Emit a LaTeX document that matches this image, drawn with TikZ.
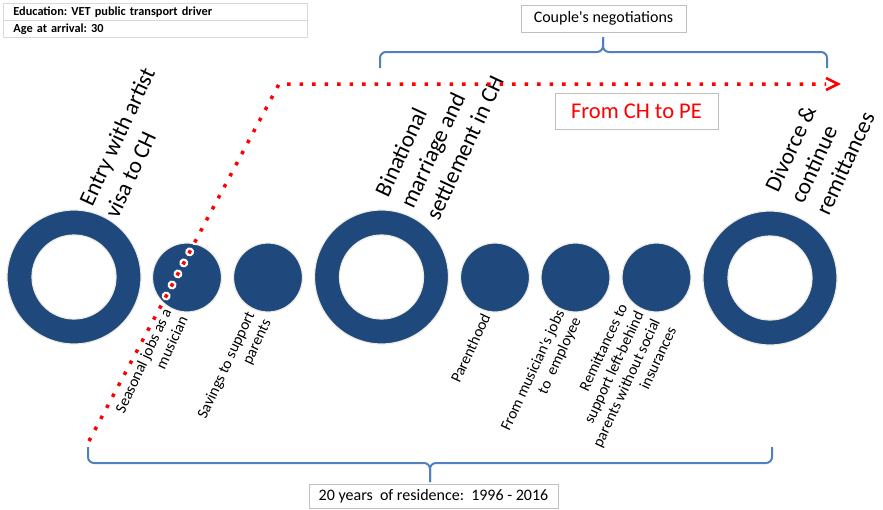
\documentclass[tikz,border=0pt]{standalone}
\usepackage{fontspec}
\setmainfont{Carlito}
\frenchspacing
\usetikzlibrary{calc}
\definecolor{navy}{HTML}{1F497D}
\definecolor{rim}{HTML}{EEECE1}
\definecolor{bracecol}{HTML}{4F81BD}
\definecolor{boxgray}{HTML}{BFBFBF}
\definecolor{cellgray}{HTML}{D9D9D9}

\begin{document}
\begin{tikzpicture}[x=1pt,y=-1pt,
  disc/.style={circle, fill=navy, draw=rim, line width=1.2pt, minimum size=69pt, inner sep=0pt},
  ring/.style={circle, fill=navy, draw=rim, line width=1.2pt, minimum size=134pt, inner sep=0pt,
    path picture={\fill[white] (path picture bounding box.center) circle (42);
      \draw[rim, line width=1.2pt] (path picture bounding box.center) circle (42);}},
  milestone/.style={rotate=65, anchor=south west, inner sep=0pt, align=left,
    font=\fontsize{23}{28}\selectfont},
  event/.style={rotate=65, anchor=north east, inner sep=0pt, align=right,
    font=\fontsize{15.5}{18}\selectfont},
  brace/.style={draw=bracecol, line width=2pt, rounded corners=6pt},
  labelbox/.style={draw=boxgray, line width=0.8pt, fill=white, inner sep=0pt},
  cell/.style={draw=cellgray, line width=0.8pt, anchor=north west, minimum width=304pt,
    minimum height=17pt, text width=284pt, inner xsep=10pt, inner ysep=0pt, align=left,
    font=\fontsize{12.3}{14}\selectfont\bfseries},
  trail/.style={red, line width=3.5pt, dash pattern=on 3.5pt off 9pt},
  halo/.style={white, line width=9pt, line cap=round, dash pattern=on 0.01pt off 12.49pt, dash phase=10.75pt}
]
\useasboundingbox (0,0) rectangle (883,509);

% profile table
\node[cell] (edu) at (3,3) {Education: VET public transport driver};
\node[cell] (age) at (3,20) {Age at arrival: 30};

% timeline of life events
\node[ring] (entry) at (74,277) {};
\node[disc] (seasonal) at (187,277.5) {};
\node[disc] (savings) at (268,277.5) {};
\node[ring] (marriage) at (381.5,277) {};
\node[disc] (parent) at (495,277.5) {};
\node[disc] (jobs) at (575.5,277.5) {};
\node[disc] (remit) at (656.5,277.5) {};
\node[ring] (divorce) at (770,278) {};

% milestone captions above the rings
\node[milestone] (entrytxt) at (118,220) {Entry with artist\\visa to CH};
\node[milestone] (marrtxt) at (439,222) {Binational\\marriage and\\settlement in CH};
\node[milestone] (divtxt) at (829,217) {Divorce \&\\continue\\remittances};

% event captions below the discs
\node[event] (seasonaltxt) at (162,307) {Seasonal jobs as a\\musician};
\node[event] (savingstxt) at (245,310) {Savings to support\\parents};
\node[event] (parenttxt) at (481,312) {Parenthood};
\node[event] (jobstxt) at (555,308) {From musician\textquotesingle s jobs\\to\ \ employee};
\node[event] (remittxt) at (618,302) {Remittances to\\support left-behind\\parents without social\\insurances};

% braces and their labels
\draw[brace] (380,68) |- (603,52) -- (603,37);
\draw[brace] (827,68) |- (603,52) -- (603,37);
\node[labelbox, minimum width=165pt, minimum height=27pt, font=\fontsize{16}{19}\selectfont] (couple) at (603.5,18.5) {Couple\textquotesingle s negotiations\hspace{9pt}};

\draw[brace] (88,447) |- (430,463) -- (430,482);
\draw[brace] (772,447) |- (430,463) -- (430,482);
\node[labelbox, minimum width=249pt, minimum height=24pt, font=\fontsize{16}{19}\selectfont] (span) at (433.5,496) {20 years\ \ of residence:\ \ 1996 - 2016};

\node[labelbox, minimum width=163pt, minimum height=36pt, text=red, font=\fontsize{22.5}{26}\selectfont] (route) at (636.5,111) {From CH to PE\hspace{24pt}};

% migration trail
\coordinate (trailstart) at (89,441);
\coordinate (trailbend) at (279,84);
\coordinate (trailend) at (826,84);
\coordinate (tip) at (838,84);
\begin{scope}
  \clip (140,236) rectangle (240,345);
  \draw[halo] (trailstart) -- (trailbend) -- (trailend);
\end{scope}
\draw[trail] (trailstart) -- (trailbend) -- (trailend);
\draw[red, line width=2.5pt] ($(tip)+(-12,-6)$) -- (tip) -- ($(tip)+(-12,6)$);
\end{tikzpicture}
\end{document}
